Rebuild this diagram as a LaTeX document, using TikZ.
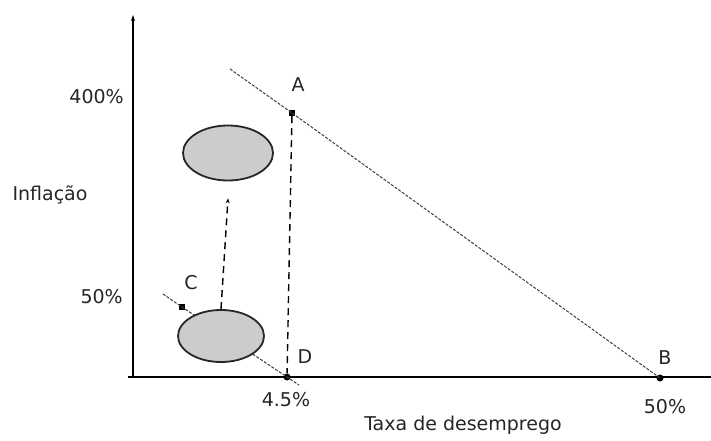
\documentclass[tikz,border=0pt]{standalone}
\usepackage{fontspec}
\setmainfont{DejaVu Sans}
\usetikzlibrary{shapes.geometric,arrows.meta}
\begin{document}
\begin{tikzpicture}[x=1pt,y=-1pt,
 lbl/.style={font=\fontsize{19}{21}\selectfont, inner sep=0pt, text=black!85},
 axisline/.style={line width=1.6pt, black},
 curve/.style={line width=1pt, black!75, dash pattern=on 3pt off 1.5pt},
 guide/.style={line width=1.4pt, black, dash pattern=on 7pt off 5pt},
 blob/.style={ellipse, draw=black!85, line width=1.8pt, fill=gray!40, inner sep=0pt},
 sq/.style={rectangle, fill=black, minimum size=6pt, inner sep=0pt},
 pdot/.style={circle, fill=black, minimum size=7pt, inner sep=0pt}]
\fill[white] (0,0) rectangle (711,441);
\useasboundingbox (0,0) rectangle (711,441);

% axes
\coordinate (O) at (133,377);
\coordinate (Ytop) at (133,15);
\coordinate (Xleft) at (128,377);
\coordinate (Xright) at (711,377);
\draw[axisline] (Xleft) -- (Xright);
\draw[axisline, -{Stealth[length=6pt,width=4pt]}] (O) -- (Ytop);

% points
\node[sq] (A) at (292,113) {};
\node[pdot] (B) at (660,378) {};
\node[sq] (C) at (182,307) {};
\node[pdot] (D) at (287,377) {};
\coordinate (ABstart) at (230,69);
\coordinate (CDstart) at (163,294);
\coordinate (CDend) at (299,385);

% curves
\draw[curve] (ABstart) -- (A.center) -- (B.center);
\draw[curve] (CDstart) -- (C.center) -- (D.center) -- (CDend);

% ellipses
\node[blob, minimum width=90pt, minimum height=55pt] (up) at (228,153) {};
\node[blob, minimum width=86pt, minimum height=52pt] (low) at (221,336) {};

% guides
\draw[guide] (A) -- (D);
\draw[guide, -{Stealth[length=5pt,width=4pt]}] (low.north) -- ([yshift=-17pt]up.south);

% labels
\node[lbl, anchor=east] (l400) at (124,97) {400\%};
\node[lbl, anchor=east] (l50) at (123,297) {50\%};
\node[lbl] (linf) at (50,195) {Inflação};
\node[lbl] (lA) at (298,85) {A};
\node[lbl] (lC) at (191,283) {C};
\node[lbl] (lD) at (305,357) {D};
\node[lbl] (lB) at (665,358) {B};
\node[lbl] (l45) at (286,400) {4.5\%};
\node[lbl] (l50b) at (665,407) {50\%};
\node[lbl] (ltaxa) at (463,425) {Taxa de desemprego};
\end{tikzpicture}
\end{document}
